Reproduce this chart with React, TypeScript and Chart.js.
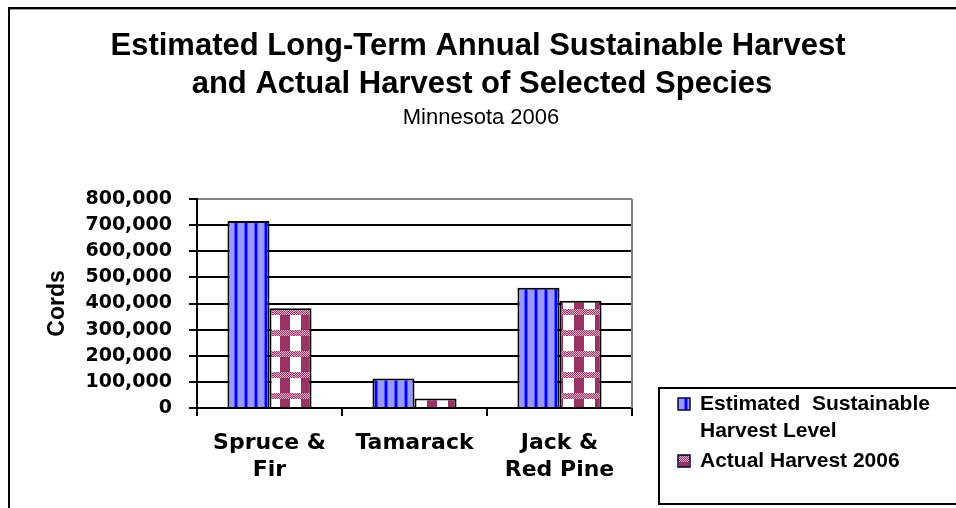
import React, { useEffect, useRef } from 'react';
import { Chart, registerables } from 'chart.js';

Chart.register(...registerables);

const categories: string[][] = [['Spruce &', 'Fir'], ['Tamarack'], ['Jack &', 'Red Pine']];
const seriesNames: string[] = ['Estimated Sustainable Harvest Level', 'Actual Harvest 2006'];
const legendLines: string[][] = [['Estimated  Sustainable', 'Harvest Level'], ['Actual Harvest 2006']];
const estimatedHarvest: number[] = [716000, 113000, 460000];
const actualHarvest2006: number[] = [382000, 36000, 411000];
const titleLines: string[] = ['Estimated Long-Term Annual Sustainable Harvest', 'and Actual Harvest of Selected Species'];
const subtitleText = 'Minnesota 2006';
const yAxisTitle = 'Cords';
const yMin = 0;
const yMax = 800000;
const yStep = 100000;

function makeStripePattern(ctx: CanvasRenderingContext2D): CanvasPattern | string {
  const t = document.createElement('canvas');
  t.width = 10;
  t.height = 10;
  const c = t.getContext('2d');
  if (!c) return '#9999FF';
  c.fillStyle = '#9999FF';
  c.fillRect(0, 0, 10, 10);
  c.fillStyle = '#5555FF';
  c.fillRect(4, 0, 4, 10);
  c.fillStyle = '#0000FF';
  c.fillRect(5, 0, 2, 10);
  return ctx.createPattern(t, 'repeat') || '#9999FF';
}

function makeCheckPattern(ctx: CanvasRenderingContext2D): CanvasPattern | string {
  const s = 21;
  const t = document.createElement('canvas');
  t.width = s;
  t.height = s;
  const c = t.getContext('2d');
  if (!c) return '#993366';
  c.fillStyle = '#FFFFFF';
  c.fillRect(0, 0, s, s);
  c.fillStyle = '#993366';
  c.fillRect(7, 0, 10, 15);
  c.fillStyle = '#E3B5CC';
  c.fillRect(0, 15, s, 6);
  c.fillStyle = '#993366';
  for (let y = 15; y < s; y++) {
    for (let x = 0; x < s; x++) {
      if ((x + y) % 2 === 0) c.fillRect(x, y, 1, 1);
    }
  }
  return ctx.createPattern(t, 'repeat') || '#993366';
}

export default function App() {
  const ref = useRef<HTMLCanvasElement | null>(null);

  useEffect(() => {
    const canvas = ref.current;
    if (!canvas) return;
    const ctx0 = canvas.getContext('2d');
    if (!ctx0) return;
    const stripe = makeStripePattern(ctx0);
    const check = makeCheckPattern(ctx0);

    const decor = {
      id: 'decor',
      beforeDraw(chart: any) {
        const ctx = chart.ctx as CanvasRenderingContext2D;
        ctx.save();
        ctx.fillStyle = '#FFFFFF';
        ctx.fillRect(0, 0, chart.width, chart.height);
        ctx.restore();
      },
      afterDraw(chart: any) {
        const ctx = chart.ctx as CanvasRenderingContext2D;
        const area = chart.chartArea;
        ctx.save();
        // outer frame
        ctx.fillStyle = '#000000';
        ctx.fillRect(8, 7, chart.width - 8, 2);
        ctx.fillRect(8, 7, 2, chart.height - 7);
        ctx.fillStyle = '#9A9A9A';
        ctx.fillRect(10, 9, chart.width - 10, 1);
        // right border of plot area
        ctx.strokeStyle = '#808080';
        ctx.lineWidth = 2;
        ctx.beginPath();
        ctx.moveTo(area.right, area.top);
        ctx.lineTo(area.right, area.bottom);
        ctx.stroke();
        // titles
        ctx.fillStyle = '#000000';
        ctx.textAlign = 'center';
        ctx.textBaseline = 'alphabetic';
        ctx.font = 'bold 31px "Liberation Sans", Arial, sans-serif';
        ctx.fillText(titleLines[0], 478, 55);
        ctx.fillText(titleLines[1], 482, 93);
        ctx.font = '22px "Liberation Sans", Arial, sans-serif';
        ctx.fillText(subtitleText, 481, 124);
        // legend
        ctx.lineWidth = 2;
        ctx.strokeStyle = '#000000';
        ctx.strokeRect(659, 388, 400, 116);
        const markerY = [398, 455];
        const fills = [stripe, check];
        const textY = [[404, 431], [461]];
        ctx.font = 'bold 21px "Liberation Sans", Arial, sans-serif';
        ctx.textAlign = 'left';
        ctx.textBaseline = 'middle';
        for (let i = 0; i < seriesNames.length; i++) {
          ctx.fillStyle = fills[i] as any;
          ctx.fillRect(678, markerY[i], 12, 12);
          ctx.lineWidth = 1.5;
          ctx.strokeStyle = '#000033';
          ctx.strokeRect(678, markerY[i], 12, 12);
          ctx.fillStyle = '#000000';
          legendLines[i].forEach((line, j) => {
            ctx.fillText(line, 700, textY[i][j]);
          });
        }
        ctx.restore();
      },
    };

    const chart = new Chart(canvas, {
      type: 'bar',
      data: {
        labels: categories,
        datasets: [
          {
            label: seriesNames[0],
            data: estimatedHarvest,
            backgroundColor: stripe as any,
            borderColor: '#000000',
            borderWidth: 2,
            categoryPercentage: 0.58,
            barPercentage: 1,
          },
          {
            label: seriesNames[1],
            data: actualHarvest2006,
            backgroundColor: check as any,
            borderColor: '#000000',
            borderWidth: 2,
            categoryPercentage: 0.58,
            barPercentage: 1,
          },
        ],
      },
      options: {
        responsive: false,
        animation: false,
        events: [],
        layout: { padding: { left: 40, top: 199, right: 324, bottom: 0 } },
        plugins: {
          legend: { display: false },
          title: { display: false },
          tooltip: { enabled: false },
        },
        scales: {
          x: {
            offset: true,
            afterFit(scale: any) {
              scale.height = 100;
            },
            border: { color: '#000000', width: 2 },
            grid: {
              offset: true,
              drawOnChartArea: false,
              drawTicks: true,
              tickLength: 8,
              color: '#000000',
              tickColor: '#000000',
              lineWidth: 2,
            },
            ticks: {
              color: '#000000',
              maxRotation: 0,
              autoSkip: false,
              padding: 14,
              font: { family: '"DejaVu Sans", sans-serif', weight: 'bold', size: 22, lineHeight: '27px' },
            },
          },
          y: {
            min: yMin,
            max: yMax,
            afterFit(scale: any) {
              scale.width = 157;
            },
            border: { color: '#000000', width: 2 },
            grid: {
              color: (c: any) => (c.tick && c.tick.value === yMax ? '#808080' : '#000000'),
              tickColor: '#000000',
              lineWidth: 2,
              tickLength: 8,
            },
            ticks: {
              stepSize: yStep,
              color: '#000000',
              padding: 17,
              font: { family: '"DejaVu Sans", sans-serif', weight: 'bold', size: 19 },
              callback: (v: any) => Number(v).toLocaleString('en-US'),
            },
            title: {
              display: true,
              text: yAxisTitle,
              color: '#000000',
              padding: { top: 4, bottom: 0 },
              font: { family: '"Liberation Sans", Arial, sans-serif', weight: 'bold', size: 23 },
            },
          },
        },
      },
      plugins: [decor],
    });

    return () => {
      chart.destroy();
    };
  }, []);

  return (
    <div style={{ position: 'absolute', left: 0, top: 0, width: 956, height: 508, overflow: 'hidden' }}>
      <canvas ref={ref} width={956} height={508} style={{ display: 'block', width: 956, height: 508 }} />
    </div>
  );
}
